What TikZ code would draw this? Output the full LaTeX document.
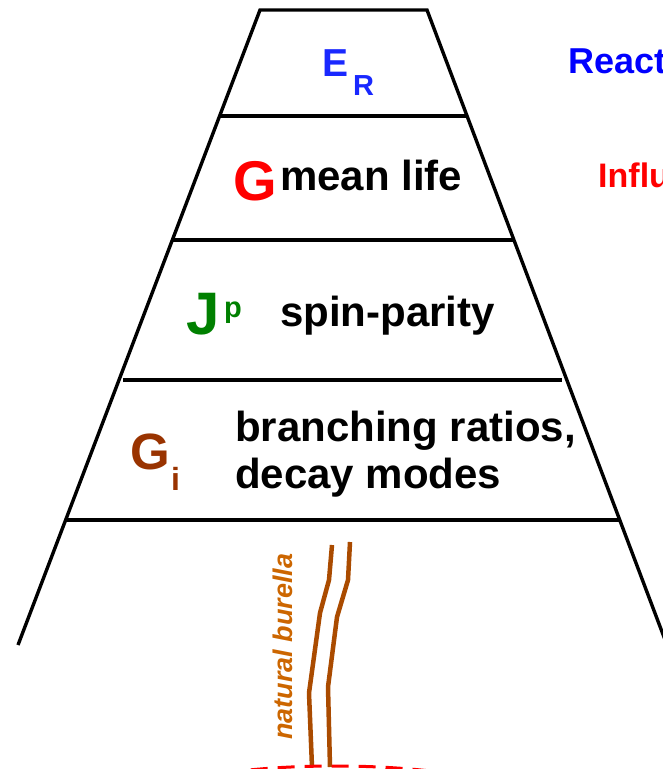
\documentclass[tikz,border=0pt]{standalone}
\usepackage{fontspec}
\setmainfont{Liberation Sans}
\usepackage{xcolor}
\usepackage{tikz}
\usetikzlibrary{calc}

\definecolor{erblue}{RGB}{25,40,255}
\definecolor{reactblue}{RGB}{0,0,255}
\definecolor{gred}{RGB}{255,0,0}
\definecolor{jgreen}{RGB}{0,128,0}
\definecolor{gbrown}{RGB}{153,51,0}
\definecolor{pipebrown}{RGB}{170,75,0}
\definecolor{burorange}{RGB}{204,102,0}

\newcommand{\fs}[1]{\fontsize{#1}{1.2\dimexpr#1pt\relax}\selectfont}

\begin{document}
\begin{tikzpicture}[x=1pt,y=-1pt,
  edge/.style={draw=black, line width=3.4pt},
  rung/.style={draw=black, line width=3.4pt},
  pipe/.style={draw=pipebrown, line width=4.5pt, line join=round},
  every node/.style={inner sep=0pt, anchor=base west, font=\bfseries}]
\useasboundingbox (0,0) rectangle (663,769);
\clip (0,0) rectangle (663,769);

\coordinate (tl) at (260,10);
\coordinate (tr) at (427,10);
\coordinate (bl) at (18,645);
\coordinate (br) at (667,645);
\draw[edge, line join=miter] (bl) -- (tl) -- (tr) -- (br);

\draw[rung] (220,116) -- (467,116);
\draw[rung] (172,240) -- (514,240);
\draw[rung] (123,380) -- (562,380);
\draw[rung] (66,520) -- (619,520);

\node[text=erblue, font=\bfseries\fs{39}] (eE) at (322,76) {E};
\node[text=erblue, font=\bfseries\fs{29}] (eR) at (353,95) {R};
\node[text=reactblue, font=\bfseries\fs{36}] (react) at (568,73) {React};

\node[text=gred, font=\bfseries\fs{56}] (gam) at (233,200) {G};
\node[font=\bfseries\fs{42}] (life) at (280,190) {mean life};
\node[text=gred, font=\bfseries\fs{34}] (influ) at (598,187) {Influ};

\node[text=jgreen, font=\bfseries\fs{60}] (jJ) at (186,334) {J};
\node[text=jgreen, font=\bfseries\fs{29}] (jp) at (224,317) {p};
\node[font=\bfseries\fs{42}] (spin) at (280,326) {spin-parity};

\node[text=gbrown, font=\bfseries\fs{51}] (gG) at (130,469) {G};
\node[text=gbrown, font=\bfseries\fs{32}] (gi) at (171,490) {i};
\node[font=\bfseries\fs{42}] (br1) at (235,441) {branching ratios,};
\node[font=\bfseries\fs{42}] (br2) at (235,488) {decay modes};

\draw[pipe] (332,545) -- (329,580) -- (320,613) -- (309,693) -- (312,767);
\draw[pipe] (350,542) -- (348,580) -- (337,617) -- (328,687) -- (330,767);
\node[text=burorange, font=\bfseries\itshape\fs{27}, rotate=90] (bur) at (292,740) {natural burella};

\draw[gred, line width=3pt, dash pattern=on 17pt off 10pt] (335,803) ellipse [x radius=190, y radius=37];
\end{tikzpicture}
\end{document}
